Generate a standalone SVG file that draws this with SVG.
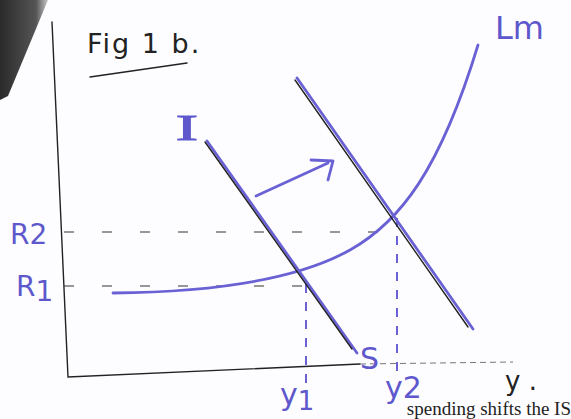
<svg xmlns="http://www.w3.org/2000/svg" width="571" height="419" viewBox="0 0 571 419">
<defs>
<style>
.pen{fill:none;stroke:#6a62d4;stroke-width:2.8;stroke-linecap:round;stroke-linejoin:round}
.pencil{fill:none;stroke:#222;stroke-width:1.4;stroke-linecap:round}
.dash{fill:none;stroke:#333;stroke-width:1.2;stroke-dasharray:10 28}
.vdash{fill:none;stroke:#6a62d4;stroke-width:2;stroke-dasharray:9 9}
.lbl{font-family:"DejaVu Sans",sans-serif;fill:#5e58cc}
.hand{font-family:"DejaVu Sans",sans-serif;fill:#222}
</style>
<linearGradient id="corner" x1="0" y1="0" x2="1" y2="0">
<stop offset="0" stop-color="#2a2a2a"/><stop offset="0.75" stop-color="#555"/><stop offset="1" stop-color="#c8c8c8"/>
</linearGradient>
</defs>
<rect width="571" height="419" fill="#fdfdff"/>
<polygon points="0,0 48,0 8,96 0,100" fill="url(#corner)"/>
<g id="axes">
<path class="pencil" d="M52,22 L68,377 L360,364"/>
<path d="M360,364 L513,362" fill="none" stroke="#777" stroke-width="1" stroke-dasharray="6 4"/>
</g>
<g id="title">
<text class="hand" x="87" y="53" font-size="27" letter-spacing="2">Fig 1 b.</text>
<path class="pencil" d="M90,77 L187,63"/>
</g>
<g id="connectors">
<path class="dash" d="M64,232 L390,232"/>
<path class="dash" d="M64,286 L305,286"/>
<path class="vdash" d="M306,284 L306,392"/>
<path class="vdash" d="M397,218 L397,372"/>
<path class="pen" d="M256,196 L328,163"/>
<path class="pen" d="M311,160 L333,161 L328,180"/>
</g>
<g id="LM">
<path class="pen" d="M113,293 C220,292 300,278 350,250 C400,222 440,170 478,45"/>
<text class="lbl" x="495" y="39" font-size="32">Lm</text>
</g>
<g id="IS">
<path class="pen" d="M207,141 L357,353"/>
<path class="pencil" d="M205,142 L352,349" stroke-width="0.9"/>
<text transform="translate(187,140) scale(1.9,1)" text-anchor="middle" font-family="Liberation Serif,serif" font-size="36" fill="#5e58cc" stroke="#5e58cc" stroke-width="0.8">I</text>
<text class="lbl" x="360" y="369" font-size="30">S</text>
</g>
<g id="IS2">
<path class="pen" d="M297,78 L473,329"/>
<path class="pencil" d="M295,80 L468,327" stroke-width="0.9"/>
</g>
<g id="labels">
<text class="lbl" x="10" y="244" font-size="28">R2</text>
<text class="lbl" x="16" y="296" font-size="28">R<tspan dy="5">1</tspan></text>
<text class="lbl" x="280" y="405" font-size="30">y<tspan dy="5" font-size="26">1</tspan></text>
<text class="lbl" x="385" y="398" font-size="30">y2</text>
<text class="hand" x="505" y="390" font-size="26" fill="#333">y .</text>
</g>
<text x="571" y="415" font-family="Liberation Serif,serif" font-size="19" fill="#222" text-anchor="end">spending shifts the IS</text>
</svg>
